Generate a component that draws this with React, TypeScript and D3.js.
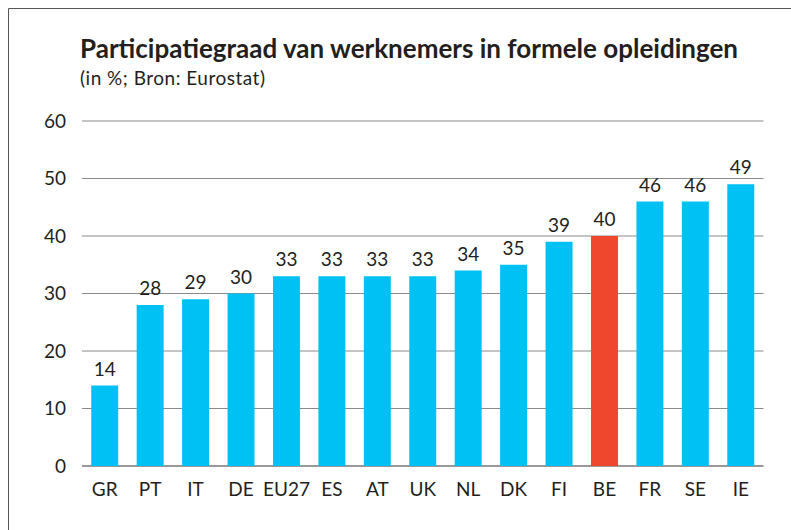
import React from "react";
import * as d3 from "d3";

const categories = ["GR", "PT", "IT", "DE", "EU27", "ES", "AT", "UK", "NL", "DK", "FI", "BE", "FR", "SE", "IE"];
const values = [14, 28, 29, 30, 33, 33, 33, 33, 34, 35, 39, 40, 46, 46, 49];
const highlight = ["BE"];
const yTicks = [0, 10, 20, 30, 40, 50, 60];

const title = "Participatiegraad van werknemers in formele opleidingen";
const subtitle = "(in %; Bron: Eurostat)";

const W = 791;
const H = 530;
const FONT = "Lato, 'Open Sans', sans-serif";

export default function App() {
  const x = d3.scaleBand<string>().domain(categories).range([82, 763.5]).paddingInner(0.406).paddingOuter(0.203);
  const y = d3.scaleLinear().domain([0, 60]).range([466, 121]);

  return (
    <svg width={W} height={H} style={{ position: "absolute", left: 0, top: 0 }}>
      <rect x={0} y={0} width={W} height={H} fill="#fff" />
      <line x1={8.5} y1={8.5} x2={W} y2={8.5} stroke="#555" strokeWidth={1} />
      <line x1={8.5} y1={8.5} x2={8.5} y2={H} stroke="#555" strokeWidth={1} />
      <text x={80} y={57.5} fontFamily={FONT} fontWeight={700} fontSize={26} fill="#231f20">{title}</text>
      <text x={80} y={85} fontFamily={FONT} fontSize={19} letterSpacing={0.5} fill="#231f20">{subtitle}</text>
      {yTicks.map((t) => (
        <g key={t}>
          <line x1={82} x2={763.5} y1={y(t)} y2={y(t)} stroke={t === 0 ? "#999" : "#8a8a8a"} strokeWidth={t === 0 ? 2 : 1} />
          <text x={66} y={y(t)} dy="0.35em" textAnchor="end" fontFamily={FONT} fontSize={19} fill="#231f20">{t}</text>
        </g>
      ))}
      {categories.map((c, i) => (
        <g key={c}>
          <rect
            x={x(c)}
            y={y(values[i])}
            width={x.bandwidth()}
            height={y(0) - y(values[i])}
            fill={highlight.includes(c) ? "#ef472d" : "#00c1f3"}
          />
          <text x={(x(c) as number) + x.bandwidth() / 2} y={y(values[i]) - 10} textAnchor="middle" fontFamily={FONT} fontSize={19} fill="#231f20">{values[i]}</text>
          <text x={(x(c) as number) + x.bandwidth() / 2} y={496} textAnchor="middle" fontFamily={FONT} fontSize={19} fill="#231f20">{c}</text>
        </g>
      ))}
    </svg>
  );
}
